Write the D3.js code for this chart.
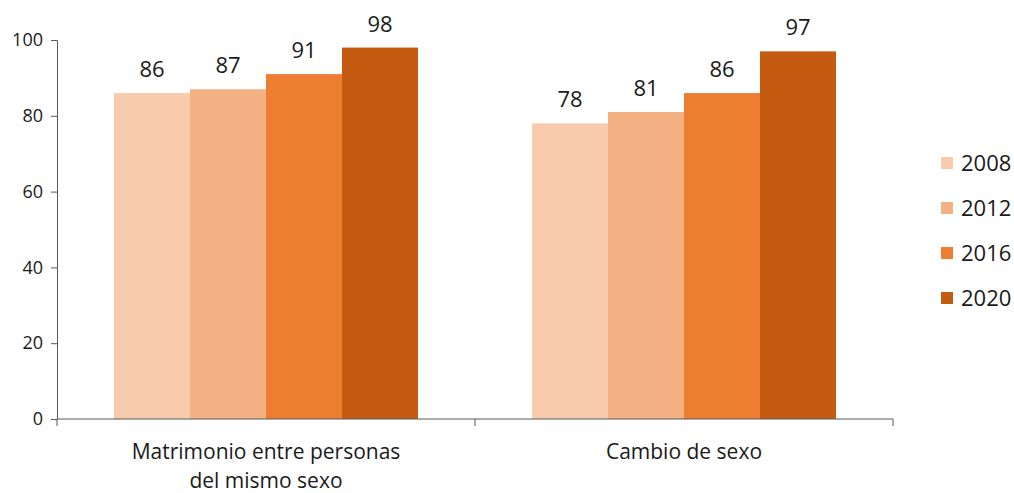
<!DOCTYPE html>
<html>
<head>
<meta charset="utf-8">
<script src="https://d3js.org/d3.v7.min.js"></script>
<style>
  body { margin: 0; background: #fff; }
  text { font-family: "Open Sans", sans-serif; fill: #1a1a1a; }
</style>
</head>
<body>
<div id="chart"></div>
<script>
const categories = [["Matrimonio entre personas", "del mismo sexo"], ["Cambio de sexo"]];
const years = ["2008", "2012", "2016", "2020"];
const values = [
  [86, 87, 91, 98],
  [78, 81, 86, 97]
];
const colors = ["#F8CBAD", "#F4B183", "#ED7D31", "#C55A11"];
const yTicks = [0, 20, 40, 60, 80, 100];

const width = 1014, height = 493;
const margin = {left: 57, right: 121, top: 40, bottom: 74};

const svg = d3.select('#chart').append('svg')
    .attr('width', width)
    .attr('height', height);

const x0 = d3.scaleBand()
    .domain(d3.range(categories.length))
    .range([margin.left, width - margin.right])
    .padding(0);

const x1 = d3.scaleBand()
    .domain(years)
    .range([57, x0.bandwidth() - 57])
    .padding(0);

const y = d3.scaleLinear()
    .domain([0, 100])
    .range([height - margin.bottom, margin.top]);

// y axis
const yAxis = svg.append('g')
    .attr('transform', `translate(${margin.left},0)`)
    .call(d3.axisLeft(y).tickValues(yTicks).tickSize(6).tickPadding(8));
yAxis.attr('font-family', null).attr('font-size', null);
yAxis.select('.domain').attr('stroke', '#595959');
yAxis.selectAll('.tick line').attr('stroke', '#595959');
yAxis.selectAll('.tick text').style('font-size', '18px').attr('fill', '#1a1a1a');

// bars
const groups = svg.selectAll('g.grp')
    .data(values)
    .join('g')
    .attr('class', 'grp')
    .attr('transform', (d, i) => `translate(${x0(i)},0)`);

groups.selectAll('rect')
    .data(d => d)
    .join('rect')
    .attr('x', (d, j) => x1(years[j]))
    .attr('y', d => y(d))
    .attr('width', x1.bandwidth())
    .attr('height', d => y(0) - y(d))
    .attr('fill', (d, j) => colors[j]);

groups.selectAll('text.val')
    .data(d => d)
    .join('text')
    .attr('class', 'val')
    .attr('x', (d, j) => x1(years[j]) + x1.bandwidth() / 2)
    .attr('y', d => y(d) - 16)
    .attr('text-anchor', 'middle')
    .style('font-size', '22px')
    .text(d => d);

// x axis
const xAxis = svg.append('g')
    .attr('transform', `translate(0,${y(0)})`);
xAxis.append('line')
    .attr('x1', margin.left).attr('x2', width - margin.right)
    .attr('stroke', '#595959');
const edges = d3.range(categories.length + 1).map(i => i < categories.length ? x0(i) : x0(i - 1) + x0.bandwidth());
xAxis.selectAll('line.tk')
    .data(edges)
    .join('line')
    .attr('class', 'tk')
    .attr('x1', d => d).attr('x2', d => d)
    .attr('y1', 0).attr('y2', 7)
    .attr('stroke', '#595959');

const catText = svg.selectAll('text.cat')
    .data(categories)
    .join('text')
    .attr('class', 'cat')
    .attr('text-anchor', 'middle')
    .style('font-size', '21px')
    .attr('y', y(0) + 40);
catText.selectAll('tspan')
    .data((d, i) => d.map(s => ({s, i})))
    .join('tspan')
    .attr('x', d => x0(d.i) + x0.bandwidth() / 2)
    .attr('dy', (d, k) => k === 0 ? 0 : 29)
    .text(d => d.s);

// legend
const legend = svg.append('g')
    .attr('transform', 'translate(941,157)');
const items = legend.selectAll('g')
    .data(years)
    .join('g')
    .attr('transform', (d, i) => `translate(0,${i * 45})`);
items.append('rect')
    .attr('width', 12).attr('height', 12)
    .attr('fill', (d, i) => colors[i]);
items.append('text')
    .attr('x', 20).attr('y', 14)
    .style('font-size', '22px')
    .text(d => d);
</script>
</body>
</html>
